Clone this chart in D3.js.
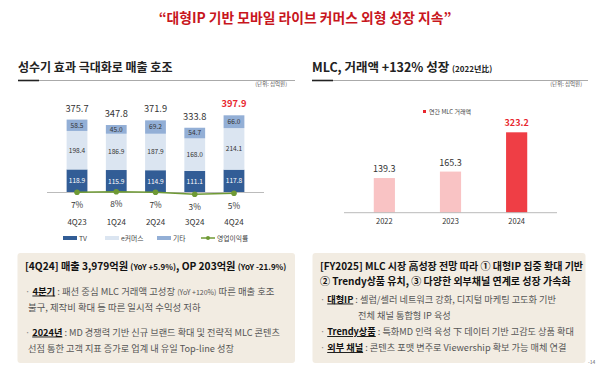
<!DOCTYPE html>
<html><head><meta charset="utf-8">
<script src="https://cdn.jsdelivr.net/npm/d3@7"></script>
<style>
html,body{margin:0;padding:0;background:#fff;}
svg{display:block;font-family:"Noto Sans CJK KR","Noto Sans",sans-serif;}
</style></head>
<body><svg id="c" width="600" height="369"></svg>
<script>
const quarters = ["4Q23","1Q24","2Q24","3Q24","4Q24"];
const tvValues = [118.9,115.9,114.9,111.1,117.8];
const ecomValues = [198.4,186.9,187.9,168.0,214.1];
const etcValues = [58.5,45.0,69.2,54.7,66.0];
const totalValues = [375.7,347.8,371.9,333.8,397.9];
const opMargin = [7,8,7,3,5];
const years = ["2022","2023","2024"];
const mlcValues = [139.3,165.3,323.2];

const svg = d3.select("#c");
const F = "Noto Sans CJK KR";

// Title
svg.append("text").attr("x",305).attr("y",23).attr("text-anchor","middle")
  .attr("font-size",13.8).attr("font-weight","bold").attr("fill","#c8161d")
  .text("“대형IP 기반 모바일 라이브 커머스 외형 성장 지속”");

// Section headings
function heading(x, x2, y, parts){
  const t = svg.append("text").attr("x",x).attr("y",y).attr("font-weight","bold").attr("fill","#222");
  parts.forEach(p=>t.append("tspan").attr("font-size",p[1]).text(p[0]));
  svg.append("line").attr("x1",x).attr("x2",x2).attr("y1",y+8.5).attr("y2",y+8.5).attr("stroke","#aaa").attr("stroke-width",1);
  svg.append("line").attr("x1",x).attr("x2",x+21).attr("y1",y+8.5).attr("y2",y+8.5).attr("stroke","#222").attr("stroke-width",1.6);
}
heading(18,295,72,[["성수기 효과 극대화로 매출 호조",12]]);
heading(312,588,72,[["MLC, 거래액 +132% 성장 ",12.5],["(2022년比)",8]]);
svg.append("text").attr("x",287).attr("y",86).attr("text-anchor","end").attr("font-size",5.5).attr("fill","#555").text("(단위: 십억원)");
svg.append("text").attr("x",582).attr("y",86).attr("text-anchor","end").attr("font-size",5.5).attr("fill","#555").text("(단위: 십억원)");

// Left chart
const x1 = d3.scaleBand().domain(quarters).range([47,264]).paddingInner(0.47).paddingOuter(0.5);
const y1 = d3.scaleLinear().domain([0,400]).range([192.5,114.9]);
const ym = d3.scaleLinear().domain([0,10]).range([195.8,190.8]);
const cols = {tv:"#325d96", ecom:"#dbe5f1", etc:"#93afd6"};
const stackData = quarters.map((q,i)=>({q, tv:tvValues[i], ecom:ecomValues[i], etc:etcValues[i]}));
const stack = d3.stack().keys(["tv","ecom","etc"])(stackData);
const g1 = svg.append("g");
stack.forEach(layer=>{
  g1.selectAll(null).data(layer).enter().append("rect")
    .attr("x",d=>x1(d.data.q)).attr("width",x1.bandwidth())
    .attr("y",d=>y1(d[1])).attr("height",d=>y1(d[0])-y1(d[1]))
    .attr("fill",cols[layer.key]);
  g1.selectAll(null).data(layer).enter().append("text")
    .attr("x",d=>x1(d.data.q)+x1.bandwidth()/2).attr("y",d=>(y1(d[0])+y1(d[1]))/2+2.4)
    .attr("text-anchor","middle").attr("font-size",6.6)
    .attr("fill",layer.key==="tv"?"#fff":"#333")
    .text(d=>d.data[layer.key].toFixed(1));
});
g1.selectAll(null).data(totalValues).enter().append("text")
  .attr("x",(d,i)=>x1(quarters[i])+x1.bandwidth()/2).attr("y",d=>y1(d)-8)
  .attr("text-anchor","middle").attr("font-size",9.3)
  .attr("font-weight",(d,i)=>i===4?"bold":"normal")
  .attr("fill",(d,i)=>i===4?"#e8262e":"#333").text(d=>d.toFixed(1));
svg.append("line").attr("x1",47).attr("x2",264).attr("y1",192.5).attr("y2",192.5).attr("stroke","#bbb").attr("stroke-width",1);
const line = d3.line().x((d,i)=>x1(quarters[i])+x1.bandwidth()/2).y(d=>ym(d));
svg.append("path").datum(opMargin).attr("d",line).attr("fill","none").attr("stroke","#6f9a35").attr("stroke-width",1.6);
svg.selectAll(null).data(opMargin).enter().append("circle")
  .attr("cx",(d,i)=>x1(quarters[i])+x1.bandwidth()/2).attr("cy",d=>ym(d)).attr("r",2.8).attr("fill","#6f9a35");
svg.selectAll(null).data(opMargin).enter().append("text")
  .attr("x",(d,i)=>x1(quarters[i])+x1.bandwidth()/2).attr("y",d=>ym(d)+15.5)
  .attr("text-anchor","middle").attr("font-size",8.3).attr("fill","#333").text(d=>d+"%");
const xAxis1 = d3.axisBottom(x1).tickSize(0).tickPadding(0);
const ax1 = svg.append("g").attr("transform","translate(0,219)").call(xAxis1);
ax1.select(".domain").remove();
ax1.selectAll("text").attr("font-size",8).attr("fill","#333").attr("font-family",F).attr("dy","0.72em");

// Legend left
const leg = [
  {t:"TV",c:cols.tv,x:63},
  {t:"e커머스",c:cols.ecom,x:105},
  {t:"기타",c:cols.etc,x:157}
];
leg.forEach(l=>{
  svg.append("rect").attr("x",l.x).attr("y",236).attr("width",14).attr("height",4).attr("fill",l.c);
  svg.append("text").attr("x",l.x+16).attr("y",240.5).attr("font-size",6.8).attr("fill","#444").text(l.t);
});
svg.append("line").attr("x1",201).attr("x2",215).attr("y1",238).attr("y2",238).attr("stroke","#6f9a35").attr("stroke-width",1.5);
svg.append("circle").attr("cx",208).attr("cy",238).attr("r",2).attr("fill","#6f9a35");
svg.append("text").attr("x",217).attr("y",240.5).attr("font-size",6.8).attr("fill","#444").text("영업이익률");

// Right chart
const x2 = d3.scaleBand().domain(years).range([344,557]).paddingInner(0.68).paddingOuter(0.45);
const y2 = d3.scaleLinear().domain([0,400]).range([212.7,113.2]);
const rcols = ["#f9c3c4","#f9c3c4","#ef3e45"];
svg.selectAll(null).data(mlcValues).enter().append("rect")
  .attr("x",(d,i)=>x2(years[i])).attr("width",x2.bandwidth())
  .attr("y",d=>y2(d)).attr("height",d=>y2(0)-y2(d)).attr("fill",(d,i)=>rcols[i]);
svg.selectAll(null).data(mlcValues).enter().append("text")
  .attr("x",(d,i)=>x2(years[i])+x2.bandwidth()/2).attr("y",d=>y2(d)-6)
  .attr("text-anchor","middle").attr("font-size",9)
  .attr("font-weight",(d,i)=>i===2?"bold":"normal")
  .attr("fill",(d,i)=>i===2?"#e8262e":"#333").text(d=>d.toFixed(1));
svg.append("line").attr("x1",344).attr("x2",557).attr("y1",212.7).attr("y2",212.7).attr("stroke","#bbb").attr("stroke-width",1);
const ax2 = svg.append("g").attr("transform","translate(0,219)").call(d3.axisBottom(x2).tickSize(0).tickPadding(0));
ax2.select(".domain").remove();
ax2.selectAll("text").attr("font-size",7.5).attr("fill","#333").attr("font-family",F).attr("dy","0.72em");
svg.append("rect").attr("x",423).attr("y",110).attr("width",3).attr("height",3).attr("fill","#e8262e");
svg.append("text").attr("x",429).attr("y",113.8).attr("font-size",6).attr("fill","#444").text("연간 MLC 거래액");

// Bottom boxes
svg.append("rect").attr("x",17.5).attr("y",253).attr("width",277.5).attr("height",110).attr("rx",3).attr("fill","#f2ece2");
svg.append("rect").attr("x",312.5).attr("y",253).attr("width",273).attr("height",110).attr("rx",3).attr("fill","#f2ece2");

function rich(x,y,parts,size){
  const t = svg.append("text").attr("x",x).attr("y",y).attr("font-size",size).attr("fill","#333");
  parts.forEach(p=>{
    const s = t.append("tspan").text(p.t);
    if(p.b) s.attr("font-weight","bold").attr("fill","#111");
    if(p.u) s.attr("text-decoration","underline");
    if(p.s) s.attr("font-size",p.s);
    if(p.c) s.attr("fill",p.c);
  });
  return t;
}
const mid="#555";
rich(25,270,[{t:"[4Q24]  매출 3,979억원 ",b:1},{t:"(YoY +5.9%)",b:1,s:8},{t:", OP 203억원 ",b:1},{t:"(YoY -21.9%)",b:1,s:8}],10.2);
rich(25,294.5,[{t:"· ",c:"#888"},{t:"4분기",b:1,u:1},{t:" : 패션 중심 MLC 거래액 고성장 ",c:mid},{t:"(YoY +120%)",s:7,c:mid},{t:" 따른 매출 호조",c:mid}],9.4);
rich(28,311,[{t:"불구, 제작비 확대 등 따른 일시적 수익성 저하",c:mid}],9.4);
rich(25,335.5,[{t:"· ",c:"#888"},{t:"2024년",b:1,u:1},{t:" : MD 경쟁력 기반 신규 브랜드 확대 및 전략적 MLC 콘텐츠",c:mid}],9.2);
rich(28,352,[{t:"선점 통한 고객  지표 증가로 업계 내 유일 Top-line 성장",c:mid}],9.2);

rich(320,270,[{t:"[FY2025]  MLC 시장 高성장 전망 따라 ① 대형IP 집중 확대 기반",b:1}],10);
rich(320,284.5,[{t:"② Trendy상품 유치, ③ 다양한 외부채널 연계로 성장 가속화",b:1}],10);
rich(320,302.5,[{t:"· ",c:"#888"},{t:"대형IP",b:1,u:1},{t:" : 셀럽/셀러 네트워크 강화, 디지털 마케팅 고도화 기반",c:mid}],9.2);
rich(358,318.5,[{t:"전체 채널 통합형 IP 육성",c:mid}],9.2);
rich(320,335,[{t:"· ",c:"#888"},{t:"Trendy상품",b:1,u:1},{t:" : 특화MD 인력 육성 下 데이터 기반 고감도 상품 확대",c:mid}],9.2);
rich(320,351,[{t:"· ",c:"#888"},{t:"외부 채널",b:1,u:1},{t:" : 콘텐츠 포맷 변주로 Viewership 확보 가능 매체 연결",c:mid}],9.2);

svg.append("text").attr("x",588).attr("y",364).attr("font-size",5).attr("fill","#666").text("-14");
</script></body></html>
